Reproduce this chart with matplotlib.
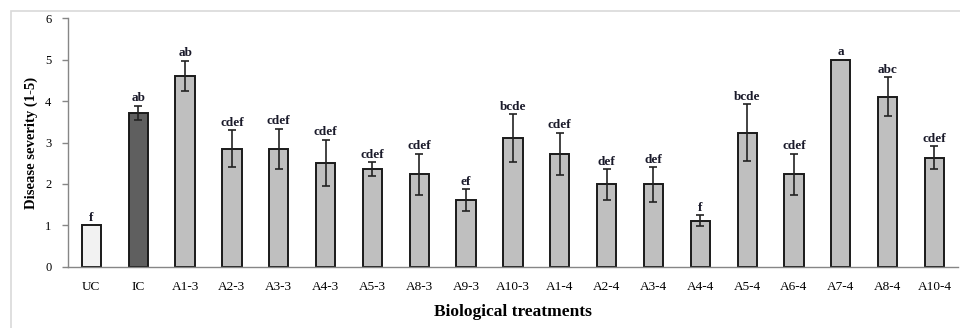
import matplotlib.pyplot as plt
import matplotlib.patches as mpatches
import numpy as np

plt.rcParams['font.family'] = ['Liberation Serif', 'DejaVu Serif']

treatments = ["UC", "IC", "A1-3", "A2-3", "A3-3", "A4-3", "A5-3", "A8-3", "A9-3",
              "A10-3", "A1-4", "A2-4", "A3-4", "A4-4", "A5-4", "A6-4", "A7-4",
              "A8-4", "A10-4"]
severity = [1.0, 3.72, 4.61, 2.85, 2.85, 2.51, 2.35, 2.23, 1.61,
            3.11, 2.73, 1.99, 1.99, 1.11, 3.24, 2.23, 5.0, 4.11, 2.63]
err = [0.0, 0.17, 0.37, 0.45, 0.48, 0.56, 0.17, 0.5, 0.26,
       0.58, 0.51, 0.37, 0.42, 0.13, 0.68, 0.5, 0.0, 0.47, 0.28]
letters = ["f", "ab", "ab", "cdef", "cdef", "cdef", "cdef", "cdef", "ef",
           "bcde", "cdef", "def", "def", "f", "bcde", "cdef", "a", "abc", "cdef"]

colors = ['#bfbfbf'] * len(treatments)
colors[0] = '#f2f2f2'
colors[1] = '#5f5f5f'

fig = plt.figure(figsize=(9.6, 3.28), dpi=100)
ax = fig.add_axes([0.0708, 0.187, 0.927, 0.757])

x = np.arange(len(treatments))
ax.bar(x, severity, width=0.41, color=colors, edgecolor='#1a1a1a', linewidth=1.4, zorder=2)
ax.errorbar(x, severity, yerr=err, fmt='none', ecolor='#222222', elinewidth=1.2,
            capsize=3, capthick=1.2, zorder=3)

for xi, v, e, lab in zip(x, severity, err, letters):
    ax.annotate(lab, (xi, v + e), xytext=(0, 1), textcoords='offset points',
                ha='center', va='bottom', fontsize=9.5, fontweight='bold', color='#1a1a2a')

ax.set_xlim(-0.5, len(treatments) - 0.5)
ax.set_ylim(0, 6)
ax.set_yticks(range(0, 7))
ax.set_xticks(x)
ax.set_xticklabels(treatments, fontsize=9.5)
ax.tick_params(axis='y', labelsize=9, length=4, color='#868686', width=1, pad=8)
ax.tick_params(axis='x', length=0, pad=10)

for s in ['top', 'right']:
    ax.spines[s].set_visible(False)
for s in ['left', 'bottom']:
    ax.spines[s].set_color('#868686')
    ax.spines[s].set_linewidth(1)

ax.set_ylabel('Disease severity (1-5)', fontsize=10.5, fontweight='bold', labelpad=5)
ax.set_xlabel('Biological treatments', fontsize=12.5, fontweight='bold', labelpad=8)

border = mpatches.Rectangle((11 / 960, -0.1), 1.2, 1 - 11 / 328 + 0.1,
                            transform=fig.transFigure, fill=False,
                            edgecolor='#d9d9d9', linewidth=1.2)
fig.patches.append(border)

fig.savefig('out.png', dpi=100)
